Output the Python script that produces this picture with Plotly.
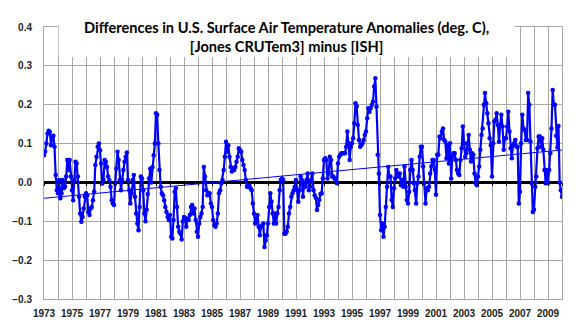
import numpy as np
import plotly.graph_objects as go

# Monthly differences (deg. C), Jan..Dec of each year
y1973 = [0.07, 0.079, 0.1, 0.126, 0.133, 0.13, 0.096, 0.118, 0.12, 0.092, 0.019, -0.02]
y1974 = [-0.028, 0.006, -0.041, -0.028, 0.006, -0.015, -0.011, 0.015, 0.058, 0.032, 0.058, 0.015]
y1975 = [-0.02, -0.046, 0.006, 0.053, 0.049, 0.015, -0.037, -0.08, -0.101, -0.089, -0.067, -0.037]
y1976 = [-0.028, -0.033, -0.076, -0.084, -0.067, -0.063, -0.046, -0.024, 0.045, 0.066, 0.092, 0.1]
y1977 = [0.083, 0.049, -0.003, 0.006, 0.058, 0.053, 0.04, 0.015, 0.006, -0.011, -0.046, -0.054]
y1978 = [-0.058, -0.003, 0.036, 0.079, 0.058, 0.006, -0.02, 0.006, 0.032, 0.053, 0.066, 0.077]
y1979 = [0.006, -0.02, -0.054, -0.028, 0.006, 0.019, -0.037, -0.08, -0.106, -0.123, -0.063, 0.015]
y1980 = [0.01, -0.02, -0.08, -0.1, -0.07, -0.03, 0.01, 0.035, 0.0, 0.04, 0.07, 0.1]
y1981 = [0.178, 0.174, 0.1, 0.032, -0.011, -0.028, -0.033, -0.046, -0.063, -0.076, -0.089, -0.097]
y1982 = [-0.084, -0.14, -0.144, -0.097, -0.024, -0.015, -0.063, -0.114, -0.127, -0.132, -0.147, -0.1]
y1983 = [-0.089, -0.093, -0.114, -0.093, -0.097, -0.084, -0.063, -0.058, -0.08, -0.067, -0.097, -0.127]
y1984 = [-0.14, -0.106, -0.089, -0.08, -0.063, 0.04, 0.015, -0.02, -0.033, -0.028, -0.028, -0.054]
y1985 = [-0.063, -0.097, -0.11, -0.114, -0.106, -0.08, -0.028, -0.02, -0.003, 0.006, 0.032, 0.066]
y1986 = [0.105, 0.079, 0.096, 0.066, 0.04, 0.028, 0.036, 0.032, 0.04, 0.053, 0.066, 0.088]
y1987 = [0.083, 0.079, 0.058, 0.045, 0.032, 0.006, -0.011, -0.011, -0.007, -0.015, -0.02, -0.054]
y1988 = [-0.08, -0.106, -0.093, -0.084, -0.114, -0.136, -0.114, -0.11, -0.106, -0.166, -0.149, -0.136]
y1989 = [-0.106, -0.063, -0.028, -0.05, -0.08, -0.106, -0.08, -0.106, -0.08, -0.063, -0.02, 0.006]
y1990 = [0.01, 0.006, -0.132, -0.132, -0.127, -0.114, -0.08, -0.063, -0.037, -0.028, -0.02, -0.011]
y1991 = [0.006, -0.02, -0.05, -0.02, 0.015, 0.006, -0.037, -0.003, -0.011, 0.006, 0.023, -0.02]
y1992 = [-0.011, 0.006, 0.023, -0.02, -0.033, -0.04, -0.071, -0.058, -0.045, -0.03, -0.028, 0.01]
y1993 = [0.058, 0.062, 0.058, 0.01, 0.023, 0.066, 0.058, 0.015, 0.015, 0.01, 0.006, -0.002]
y1994 = [0.049, 0.066, 0.071, 0.075, 0.075, 0.075, 0.075, 0.092, 0.131, 0.101, 0.058, 0.092]
y1995 = [0.101, 0.114, 0.152, 0.204, 0.196, 0.148, 0.109, 0.092, 0.096, 0.101, 0.109, 0.122]
y1996 = [0.131, 0.165, 0.191, 0.182, 0.191, 0.2, 0.208, 0.247, 0.268, 0.195, 0.071, 0.023]
y1997 = [-0.084, -0.123, -0.106, -0.14, -0.114, -0.063, -0.011, 0.04, 0.015, 0.015, -0.045, -0.063]
y1998 = [-0.015, 0.01, 0.032, 0.023, 0.015, 0.023, -0.007, 0.006, -0.011, 0.041, -0.011, -0.045]
y1999 = [-0.054, -0.024, 0.032, 0.058, 0.032, -0.002, -0.02, -0.054, -0.002, 0.015, 0.066, 0.092]
y2000 = [0.092, 0.041, -0.002, -0.054, -0.015, -0.02, -0.011, 0.023, 0.041, 0.058, 0.058, 0.032]
y2001 = [-0.032, 0.071, 0.071, 0.118, 0.114, 0.131, 0.139, 0.109, 0.105, 0.062, 0.096, 0.049]
y2002 = [0.101, 0.01, 0.066, 0.075, 0.075, 0.058, 0.032, 0.023, 0.019, 0.058, 0.088, 0.144]
y2003 = [0.101, 0.066, 0.075, 0.101, 0.122, 0.084, 0.054, 0.075, 0.071, 0.023, -0.002, -0.007]
y2004 = [0.015, 0.041, 0.084, 0.122, 0.139, 0.2, 0.23, 0.204, 0.178, 0.152, 0.114, 0.096]
y2005 = [0.015, 0.101, 0.157, 0.161, 0.178, 0.148, 0.105, 0.148, 0.174, 0.144, 0.084, 0.114]
y2006 = [0.114, 0.144, 0.182, 0.131, 0.088, 0.062, 0.096, 0.101, 0.109, 0.092, 0.092, -0.054]
y2007 = [-0.024, 0.101, 0.174, 0.139, 0.135, 0.109, 0.109, 0.23, 0.2, 0.105, -0.002, -0.076]
y2008 = [-0.07, -0.011, 0.015, 0.088, 0.118, 0.118, 0.092, 0.114, 0.084, 0.032, -0.002, 0.032]
y2009 = [-0.002, 0.032, 0.075, 0.139, 0.238, 0.2, 0.2, 0.12, 0.09, 0.145, 0.0, -0.02]
y2010 = [-0.037]

start_year = 1973
years_data = [y1973, y1974, y1975, y1976, y1977, y1978, y1979, y1980, y1981, y1982,
              y1983, y1984, y1985, y1986, y1987, y1988, y1989, y1990, y1991, y1992,
              y1993, y1994, y1995, y1996, y1997, y1998, y1999, y2000, y2001, y2002,
              y2003, y2004, y2005, y2006, y2007, y2008, y2009, y2010]

x_label_years = list(range(1973, 2010, 2))
title_lines = ["Differences in U.S. Surface Air Temperature Anomalies (deg. C),",
               "[Jones CRUTem3] minus [ISH]"]

xs, vs = [], []
for i, yr in enumerate(years_data):
    for m, v in enumerate(yr):
        xs.append(start_year + i + m / 12.0)
        vs.append(v)
xs = np.array(xs)
vs = np.array(vs)

slope, intercept = np.polyfit(xs, vs, 1)
trend_x = np.array([1973.0, 2010.0])
trend_y = slope * trend_x + intercept

BLUE = "#0000ff"
GRID = "#a6a6a6"
TICKFONT = dict(family="Liberation Sans, Arial, sans-serif", size=10, color="#222222",
                weight="bold")

fig = go.Figure()
fig.add_trace(go.Scatter(x=trend_x, y=trend_y, mode="lines", xaxis="x2", yaxis="y",
                         line=dict(color=BLUE, width=1), hoverinfo="skip", showlegend=False))
fig.add_trace(go.Scatter(x=xs, y=vs, mode="lines+markers",
                         line=dict(color=BLUE, width=2.2),
                         marker=dict(color=BLUE, size=4.5, symbol="circle"),
                         showlegend=False))

fig.update_layout(
    width=576, height=336,
    margin=dict(l=33, r=14, t=27, b=37),
    paper_bgcolor="white", plot_bgcolor="white",
    xaxis=dict(range=[1973, 2010], tickvals=x_label_years,
               ticktext=[str(v) for v in x_label_years],
               tickfont=TICKFONT, showgrid=True, gridcolor=GRID, gridwidth=1,
               minor=dict(tick0=1973, dtick=1, showgrid=True, gridcolor=GRID, gridwidth=1),
               showline=True, linecolor=GRID, linewidth=1, mirror=True,
               ticks="", ticklabelstandoff=5, zeroline=False),
    xaxis2=dict(range=[1973, 2010], overlaying="x", anchor="free", position=0.3 / 0.7,
                side="bottom", showgrid=False, showticklabels=False, showline=False,
                ticks="outside", ticklen=3, tickwidth=1, tickcolor="black",
                tick0=1973, dtick=1, zeroline=False),
    yaxis=dict(range=[-0.3, 0.4], dtick=0.1, tick0=0, tickformat=".1f",
               tickfont=TICKFONT, showgrid=True, gridcolor=GRID, gridwidth=1,
               showline=True, linecolor=GRID, linewidth=1, mirror=True,
               zeroline=True, zerolinecolor="black", zerolinewidth=2.5,
               ticks="", ticklabelstandoff=9),
)

# white title box covering the top of the grid, as in the original
fig.add_shape(type="rect", xref="paper", yref="paper",
              x0=(48 - 33) / 529, x1=(514 - 33) / 529,
              y0=(299 - 57) / 272, y1=1.01,
              fillcolor="white", line=dict(width=0), layer="above")
fig.add_annotation(xref="paper", yref="paper", x=(281 - 33) / 529, y=(299 - 36.5) / 272,
                   xanchor="center", yanchor="middle", showarrow=False,
                   text="<b>" + "<br>".join(title_lines) + "</b>",
                   font=dict(family="Lato, Open Sans, sans-serif", size=14.6, color="black"))

fig.write_html("out.html")
